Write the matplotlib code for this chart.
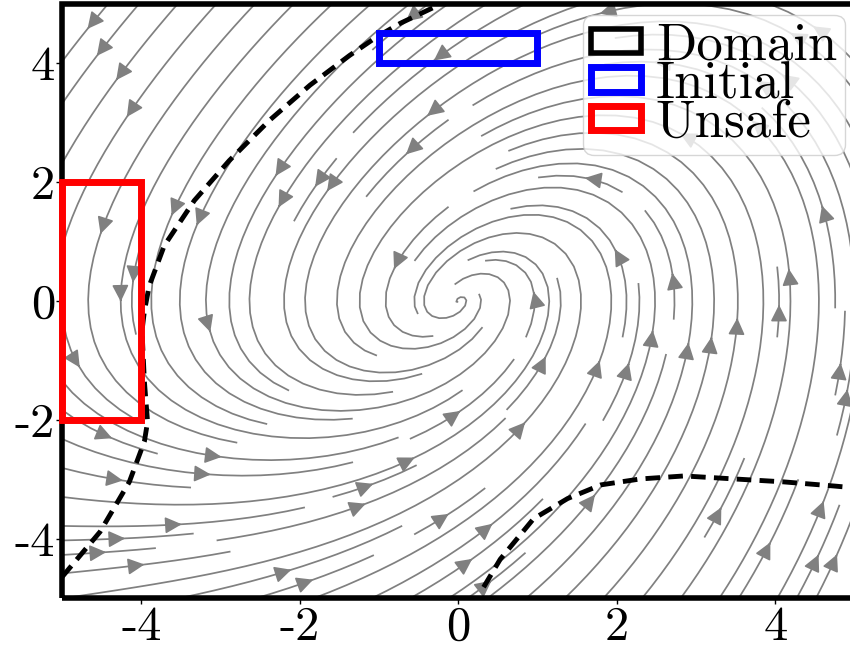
import numpy as np
import matplotlib
matplotlib.use("Agg")
import matplotlib.pyplot as plt
from matplotlib.patches import Rectangle

plt.rcParams['font.family'] = 'serif'
plt.rcParams['font.serif'] = ['cmr10']
plt.rcParams['axes.unicode_minus'] = False

# vector field coefficients: x' = -y ,  y' = c*x - d*y + e*x^2
field_c, field_d, field_e = 1.3, 0.9, 0.12

# sets: (x0, y0, width, height)
domain = (-5, -5, 10, 10)
initial = (-1, 4, 2, 0.5)
unsafe = (-5, -2, 1, 4)
set_names = ['Domain', 'Initial', 'Unsafe']
set_colors = ['black', 'blue', 'red']

# zero level set of the barrier
left_x = [-5.0, -4.52, -4.15, -3.96, -3.92, -3.96, -3.99, -3.96, -3.9, -3.71,
          -3.33, -2.89, -2.38, -1.87, -1.37, -1.03, -0.73, -0.32]
left_y = [-4.64, -3.88, -3.04, -2.36, -2.03, -1.35, -0.5, -0.17, 0.25, 0.93,
          1.69, 2.36, 3.04, 3.63, 4.13, 4.44, 4.67, 4.93]
right_x = [0.32, 0.53, 0.95, 1.38, 1.8, 2.3, 2.85, 3.48, 4.11, 4.75, 5.0]
right_y = [-4.81, -4.34, -3.66, -3.32, -3.09, -2.99, -2.94, -2.99, -3.04, -3.11, -3.14]

ticks = [-4, -2, 0, 2, 4]

fig = plt.figure(figsize=(8.5, 6.48), dpi=100)
ax = fig.add_axes([0.0729, 0.0764, 0.9324, 0.918])

xs = np.linspace(-5, 5, 200)
ys = np.linspace(-5, 5, 200)
X, Y = np.meshgrid(xs, ys)
U = -Y
V = field_c * X - field_d * Y + field_e * X ** 2
ax.streamplot(X, Y, U, V, color='gray', linewidth=1.25, density=1.4,
              arrowsize=2.5, zorder=1)

ax.plot(left_x, left_y, 'k--', lw=3.5, dashes=(3, 1.7), zorder=3)
ax.plot(right_x, right_y, 'k--', lw=3.5, dashes=(3, 1.7), zorder=3)

handles = []
for rect, name, col in zip([domain, initial, unsafe], set_names, set_colors):
    lw = 4 if name == 'Domain' else 5
    p = Rectangle(rect[:2], rect[2], rect[3], fill=False, edgecolor=col,
                  lw=lw, label=name, zorder=4, clip_on=False)
    ax.add_patch(p)
    handles.append(p)

for s in ax.spines.values():
    s.set_visible(False)

ax.set_xlim(-5, 5)
ax.set_ylim(-5, 5)
ax.set_xticks(ticks)
ax.set_yticks(ticks)
ax.tick_params(labelsize=35, length=4, width=1, pad=1)

leg = ax.legend(handles=handles, loc='upper right', fontsize=38, labelspacing=-0.16,
                handlelength=0.95, handleheight=0.34, handletextpad=0.28,
                borderpad=0.15, borderaxespad=0, bbox_to_anchor=(0.988, 0.981))

fig.savefig('out.png', dpi=100)
